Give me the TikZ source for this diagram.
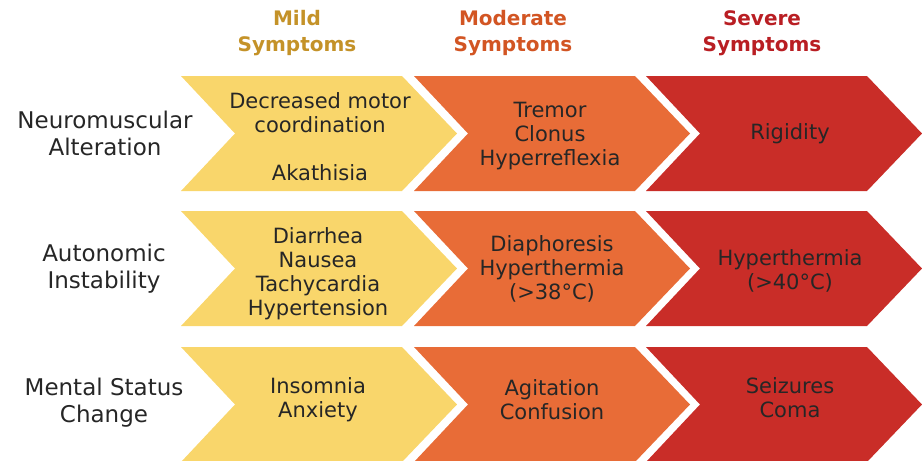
\documentclass[tikz,border=0pt]{standalone}
\usepackage{fontspec}
\setmainfont{DejaVu Sans}
\definecolor{mildfill}{RGB}{249,214,107}
\definecolor{modfill}{RGB}{232,108,55}
\definecolor{sevfill}{RGB}{201,45,40}
\definecolor{mildtext}{RGB}{196,146,40}
\definecolor{modtext}{RGB}{210,85,35}
\definecolor{sevtext}{RGB}{185,30,35}
\definecolor{inktext}{RGB}{38,38,38}
\usetikzlibrary{positioning}

\begin{document}
\begin{tikzpicture}[
    x=1pt, y=-1pt,
    chevron/.pic={\fill (0,0) -- (221,0) -- (276,57.5) -- (221,115) -- (0,115) -- (54,57.5) -- cycle;},
    header/.style={align=center, font={\fontsize{20}{26}\selectfont\bfseries}},
    rowlabel/.style={align=center, text=inktext, font={\fontsize{23}{27}\selectfont}},
    symptom/.style={align=center, text=inktext, font={\fontsize{21}{24}\selectfont}}
]
\useasboundingbox (0,0) rectangle (922,461);

% Chevrons
\pic[fill=mildfill] at (181,76) {chevron};
\pic[fill=modfill] at (414,76) {chevron};
\pic[fill=sevfill] at (646,76) {chevron};
\pic[fill=mildfill] at (181,211) {chevron};
\pic[fill=modfill] at (414,211) {chevron};
\pic[fill=sevfill] at (646,211) {chevron};
\pic[fill=mildfill] at (181,347) {chevron};
\pic[fill=modfill] at (414,347) {chevron};
\pic[fill=sevfill] at (646,347) {chevron};

% Headers
\node (mildhead) [header, text=mildtext] at (297,33) {Mild\\Symptoms};
\node (modhead) [header, text=modtext] at (513,33) {Moderate\\Symptoms};
\node (sevhead) [header, text=sevtext] at (762,33) {Severe\\Symptoms};

% Row labels
\node (neuro) [rowlabel] at (105,133.5) {Neuromuscular\\Alteration};
\node (auto) [rowlabel] at (104,268.5) {Autonomic\\Instability};
\node (mental) [rowlabel] at (104,403) {Mental Status\\Change};

% Symptoms
\node (mildneuro) [symptom] at (320,137) {Decreased motor\\coordination\\[24pt]Akathisia};
\node (modneuro) [symptom] at (550,136) {Tremor\\Clonus\\Hyperreflexia};
\node (sevneuro) [symptom] at (790,133.5) {Rigidity};
\node (mildauto) [symptom] at (318,273.5) {Diarrhea\\Nausea\\Tachycardia\\Hypertension};
\node (modauto) [symptom] at (552,268.5) {Diaphoresis\\Hyperthermia\\(>38°C)};
\node (sevauto) [symptom] at (790,271) {Hyperthermia\\(>40°C)};
\node (mildmental) [symptom] at (318,400) {Insomnia\\Anxiety};
\node (modmental) [symptom] at (552,400) {Agitation\\Confusion};
\node (sevmental) [symptom] at (790,398) {Seizures\\Coma};

\end{tikzpicture}
\end{document}
